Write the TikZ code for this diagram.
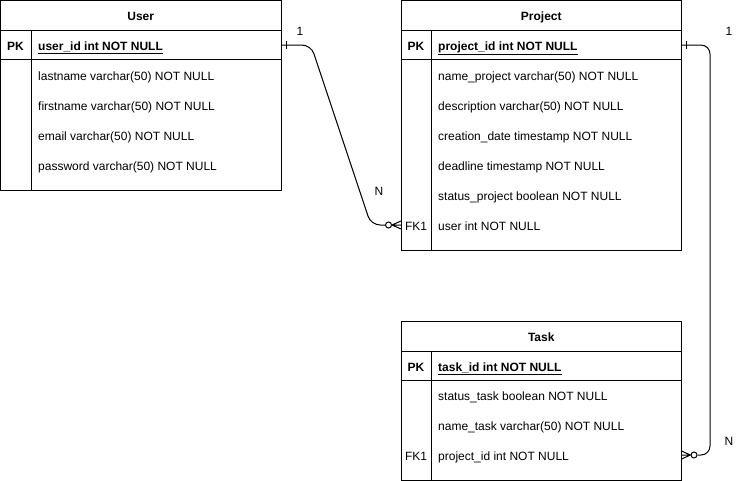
\documentclass[tikz,border=0pt]{standalone}
\usepackage{fontspec}
\setmainfont{Liberation Sans}
\usetikzlibrary{positioning}

\newcommand{\erfont}{\fontsize{12}{14}\selectfont}

\tikzset{
  capline/.style={text height=10.6pt, text depth=0pt},
  tablebox/.style={draw, line width=1pt, anchor=north west, inner sep=0pt, outer sep=0pt, minimum width=280.5pt},
  headcell/.style={tablebox, capline, minimum height=30pt, font=\erfont\bfseries},
  keycell/.style={tablebox, minimum height=29.5pt},
  field/.style={capline, anchor=west, inner sep=0pt},
  keytag/.style={capline, anchor=center, inner sep=0pt},
  ring/.style={circle, draw, line width=1pt, fill=white, minimum size=6pt, inner sep=0pt},
  rel/.style={line width=1pt, rounded corners=9pt},
  endmark/.style={line width=1pt},
  card/.style={capline, inner sep=0pt}
}

\begin{document}
\begin{tikzpicture}[x=1pt, y=-1pt, font=\erfont]
    \useasboundingbox (0,0) rectangle (751,481);

    % User table
    \node (uhead) [headcell] at (0.5, 0.5) {User};
    \node (upk) [keycell, below=0pt of uhead] {};
    \node (ubody) [tablebox, minimum height=130pt, below=0pt of upk] {};
    \draw[line width=1pt] ([xshift=30.5pt]upk.north west) -- ([xshift=30.5pt]ubody.south west);
    \node (upktag) [keytag, font=\erfont\bfseries] at (15.5, 45) {PK};
    \node (uid) [field, font=\erfont\bfseries] at (38, 45) {\underline{user\_id int NOT NULL}};
    \node (ulast) [field] at (38, 75) {lastname varchar(50) NOT NULL};
    \node (ufirst) [field] at (38, 105) {firstname varchar(50) NOT NULL};
    \node (umail) [field] at (38, 135) {email varchar(50) NOT NULL};
    \node (upass) [field] at (38, 165) {password varchar(50) NOT NULL};

    % Project table
    \node (phead) [headcell] at (401, 0.5) {Project};
    \node (ppk) [keycell, below=0pt of phead] {};
    \node (pbody) [tablebox, minimum height=190pt, below=0pt of ppk] {};
    \draw[line width=1pt] ([xshift=30.5pt]ppk.north west) -- ([xshift=30.5pt]pbody.south west);
    \node (ppktag) [keytag, font=\erfont\bfseries] at (416, 45) {PK};
    \node (pid) [field, font=\erfont\bfseries] at (438, 45) {\underline{project\_id int NOT NULL}};
    \node (pname) [field] at (438, 75) {name\_project varchar(50) NOT NULL};
    \node (pdesc) [field] at (438, 105) {description varchar(50) NOT NULL};
    \node (pdate) [field] at (438, 135) {creation\_date timestamp NOT NULL};
    \node (pdead) [field] at (438, 165) {deadline timestamp NOT NULL};
    \node (pstatus) [field] at (438, 195) {status\_project boolean NOT NULL};
    \node (pfktag) [keytag] at (416, 225) {FK1};
    \node (puser) [field] at (438, 225) {user int NOT NULL};

    % Task table
    \node (thead) [headcell] at (401, 321) {Task};
    \node (tpk) [keycell, below=0pt of thead] {};
    \node (tbody) [tablebox, minimum height=99.5pt, below=0pt of tpk] {};
    \draw[line width=1pt] ([xshift=30.5pt]tpk.north west) -- ([xshift=30.5pt]tbody.south west);
    \node (tpktag) [keytag, font=\erfont\bfseries] at (416, 366) {PK};
    \node (tid) [field, font=\erfont\bfseries] at (438, 366) {\underline{task\_id int NOT NULL}};
    \node (tstatus) [field] at (438, 395) {status\_task boolean NOT NULL};
    \node (tname) [field] at (438, 425) {name\_task varchar(50) NOT NULL};
    \node (tfktag) [keytag] at (416, 455) {FK1};
    \node (tproj) [field] at (438, 455) {project\_id int NOT NULL};

    % User 1 -- N Project
    \coordinate (pfk) at (pbody.west |- puser.west);
    \node (ring1) [ring, left=9pt of pfk] {};
    \draw[rel] (upk.east) -- (311, 45) -- (371, 225) -- (ring1.west);
    \draw[endmark] (ring1.east) -- ([yshift=4pt]pfk) (ring1.east) -- (pfk) (ring1.east) -- ([yshift=-4pt]pfk);
    \draw[endmark] ([xshift=5pt, yshift=4pt]upk.east) -- ([xshift=5pt, yshift=-4pt]upk.east);
    \node (one1) [card] at (300, 30) {1};
    \node (many1) [card] at (379, 190) {N};

    % Project 1 -- N Task
    \coordinate (tfk) at (tbody.east |- tproj.west);
    \node (ring2) [ring, right=9pt of tfk] {};
    \draw[rel] (ppk.east) -- (710, 45) -- (710, 455) -- (ring2.east);
    \draw[endmark] (ring2.west) -- ([yshift=4pt]tfk) (ring2.west) -- (tfk) (ring2.west) -- ([yshift=-4pt]tfk);
    \draw[endmark] ([xshift=5pt, yshift=4pt]ppk.east) -- ([xshift=5pt, yshift=-4pt]ppk.east);
    \node (one2) [card] at (729, 30) {1};
    \node (many2) [card] at (729, 440) {N};
\end{tikzpicture}
\end{document}
